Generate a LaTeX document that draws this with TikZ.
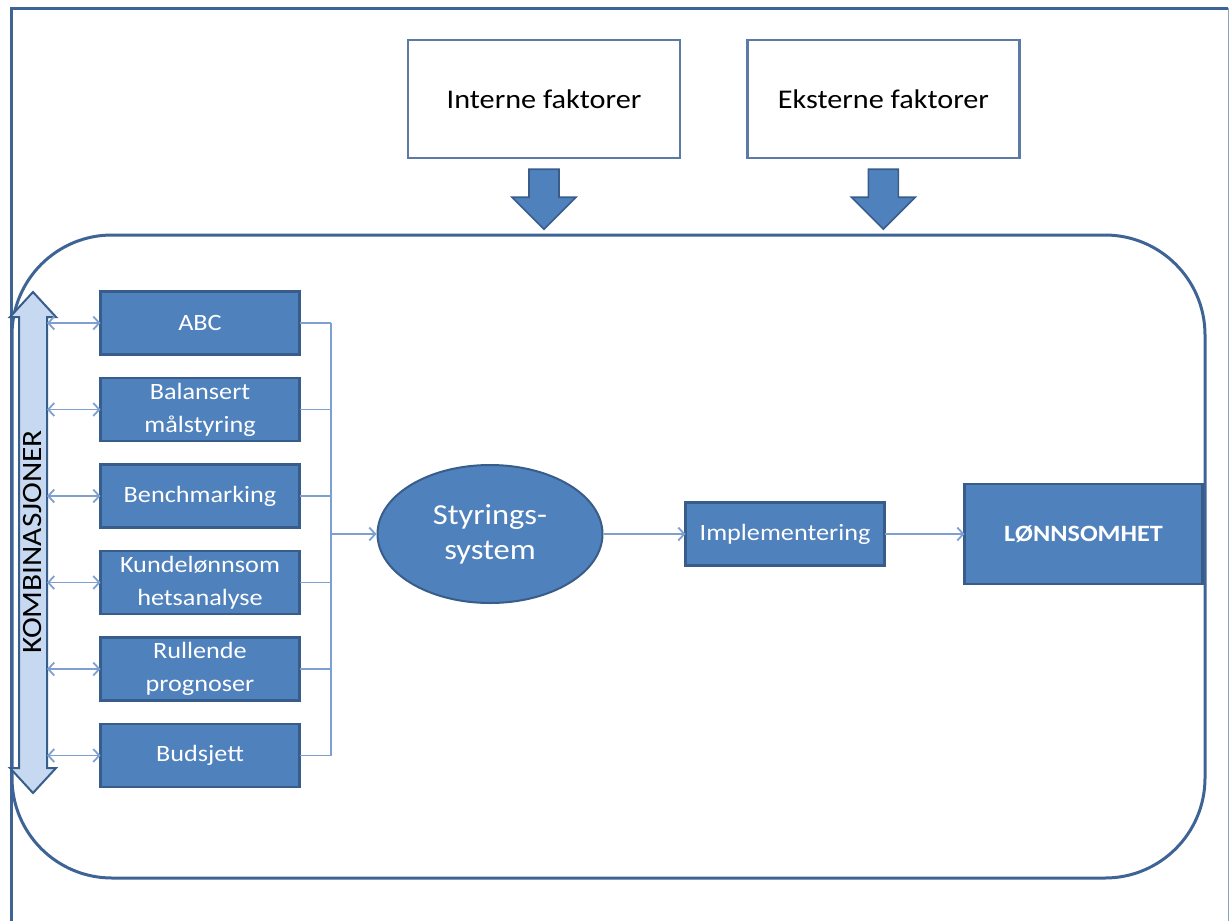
\documentclass[tikz,border=0pt]{standalone}
\usepackage{fontspec}
\setmainfont{Carlito}[FakeStretch=1.12]
\usetikzlibrary{positioning,shapes.geometric,arrows.meta}
\definecolor{boxblue}{RGB}{79,129,189}
\definecolor{edgeblue}{RGB}{56,93,138}
\definecolor{frameblue}{RGB}{62,100,150}
\definecolor{linkblue}{RGB}{126,160,208}
\definecolor{paleblue}{RGB}{198,217,241}
\begin{document}
\begin{tikzpicture}
  [x=0.5pt,y=-0.5pt,
  >={Straight Barb[length=3pt,width=6.5pt]},
  box/.style={rectangle, fill=boxblue, draw=edgeblue, line width=1.2pt, text=white,
    font=\fontsize{11.7}{16.5}\selectfont, align=center,
    minimum width=99.5pt, minimum height=31.5pt, inner sep=1pt, outer sep=0pt},
  factor/.style={rectangle, fill=white, draw=frameblue!85, line width=1.2pt,
    minimum width=136pt, minimum height=59pt, font=\fontsize{13.5}{16}\selectfont},
  hub/.style={ellipse, fill=boxblue, draw=edgeblue, line width=1pt, text=white,
    font=\fontsize{14.5}{17.5}\selectfont, align=center,
    minimum width=112.5pt, minimum height=69pt},
  link/.style={draw=linkblue, line width=0.9pt},
  bigarrow/.style={fill=boxblue, draw=edgeblue, line width=0.8pt},
  ]
  \useasboundingbox (0,0) rectangle (1230,921);
  % frame and panel
  \draw[frameblue, line width=1.5pt] (11,921) -- (11,8) -- (1228,8);
  \draw[frameblue!60, line width=0.5pt] (1228,8) -- (1228,921);
  \draw[frameblue, line width=1.5pt, rounded corners=50pt] (12,235) rectangle (1205,878);

  % factors
  \node[factor] (intern) at (544,99) {Interne faktorer};
  \node[factor, right=32.5pt of intern] (ekstern) {Eksterne faktorer};
  \draw[bigarrow] (intern.south) ++(-15,10) -- ++(30,0) -- ++(0,28) -- ++(17,0)
    -- ++(-32,32) -- ++(-32,-32) -- ++(17,0) -- cycle;
  \draw[bigarrow] (ekstern.south) ++(-15,10) -- ++(30,0) -- ++(0,28) -- ++(17,0)
    -- ++(-32,32) -- ++(-32,-32) -- ++(17,0) -- cycle;

  % combinations
  \draw[fill=paleblue, draw=edgeblue, line width=1pt] (33,292) -- (56,317) -- (47,317)
    -- (47,768) -- (56,768) -- (33,793) -- (10,768) -- (19,768) -- (19,317) -- (10,317) -- cycle;
  \node[rotate=90, font=\fontsize{14}{16}\selectfont] (komb) at (33,542) {KOMBINASJONER};
  \coordinate (kombR) at (47,0);
  \coordinate (bus) at (331,0);

  % tools
  \node[box] (abc) at (200,323) {ABC};
  \node[box, below=11.75pt of abc] (bsc) {Balansert\\målstyring};
  \node[box, below=11.75pt of bsc] (bench) {Benchmarking};
  \node[box, below=11.75pt of bench] (kunde) {Kundelønnsom\\hetsanalyse};
  \node[box, below=11.75pt of kunde] (rull) {Rullende\\prognoser};
  \node[box, below=11.75pt of rull] (buds) {Budsjett};

  \node[hub] (styr) at (490,534) {Styrings-\\system};
  \node[box, right=41pt of styr] (impl) {Implementering};
  \node[box, minimum width=119pt, minimum height=50pt,
    font=\fontsize{11.7}{14}\selectfont\bfseries, right=40pt of impl] (lonn) {LØNNSOMHET};

  % links
  \draw[link,<->] (kombR |- abc.west) -- (abc.west);
  \draw[link,<->] (kombR |- bsc.west) -- (bsc.west);
  \draw[link,<->] (kombR |- bench.west) -- (bench.west);
  \draw[link,<->] (kombR |- kunde.west) -- (kunde.west);
  \draw[link,<->] (kombR |- rull.west) -- (rull.west);
  \draw[link,<->] (kombR |- buds.west) -- (buds.west);

  \draw[link] (abc.east) -- (bus |- abc.east);
  \draw[link] (bsc.east) -- (bus |- bsc.east);
  \draw[link] (bench.east) -- (bus |- bench.east);
  \draw[link] (kunde.east) -- (bus |- kunde.east);
  \draw[link] (rull.east) -- (bus |- rull.east);
  \draw[link] (buds.east) -- (bus |- buds.east);
  \draw[link] (bus |- abc.east) -- (bus |- buds.east);
  \draw[link,->] (bus |- styr.west) -- (styr.west);
  \draw[link,->] (styr.east) -- (impl.west);
  \draw[link,->] (impl.east) -- (lonn.west);
\end{tikzpicture}
\end{document}
